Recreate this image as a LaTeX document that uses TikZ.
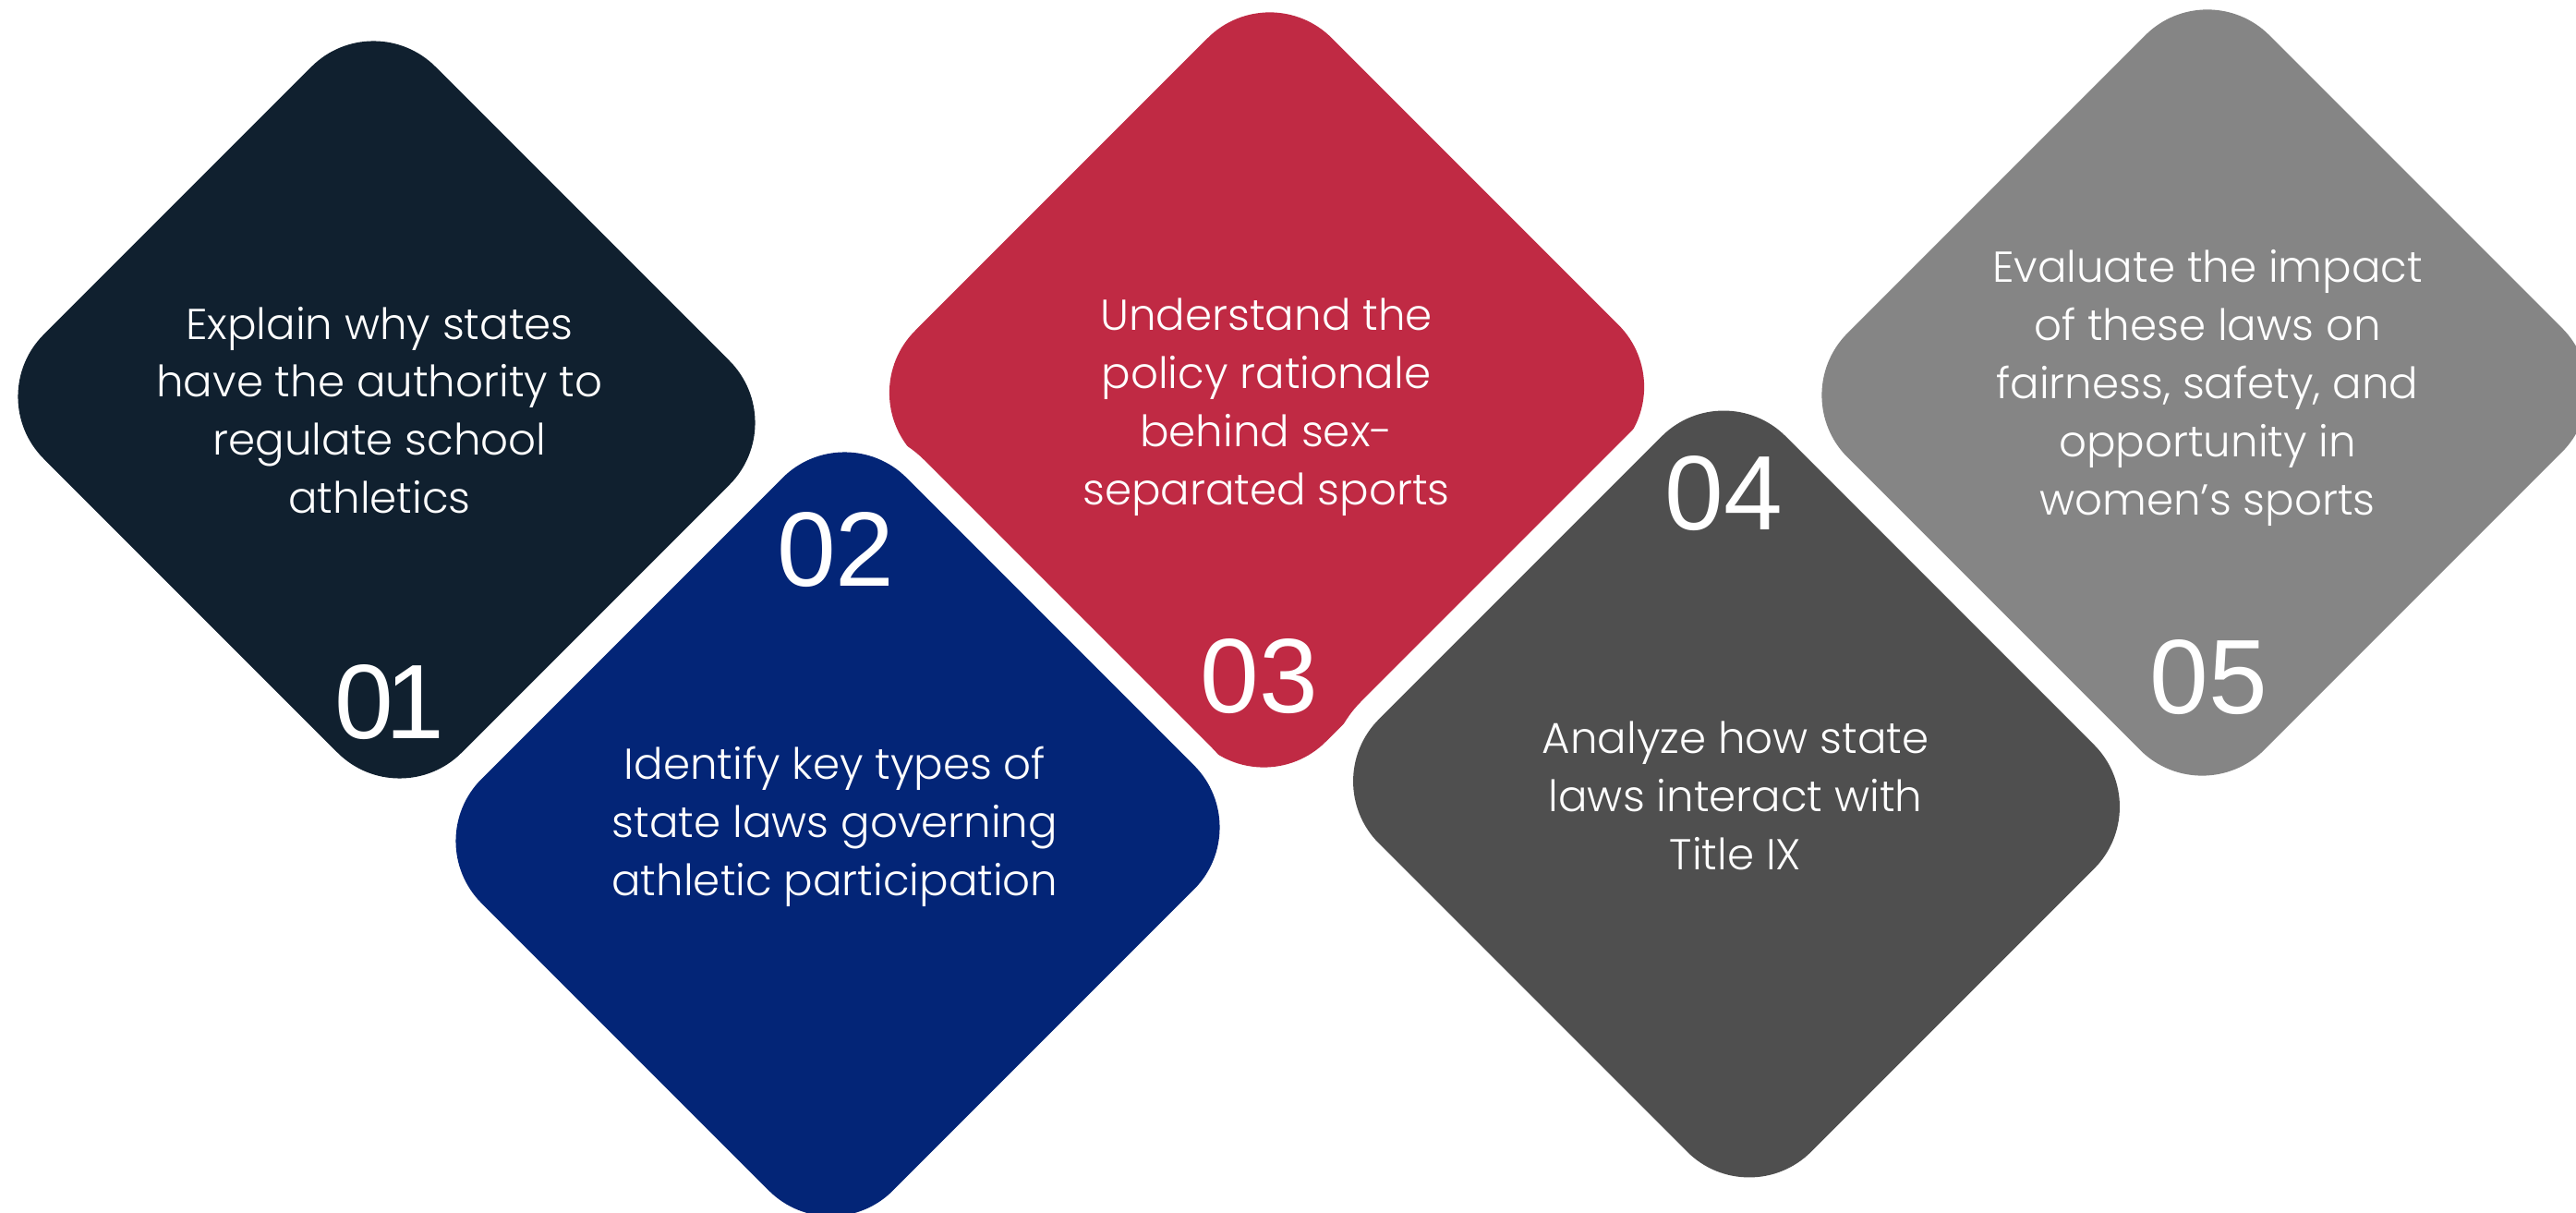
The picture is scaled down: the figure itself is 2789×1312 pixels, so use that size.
\documentclass[tikz,border=0pt]{standalone}
\usepackage{fontspec}
\setmainfont{Poppins Light}
\newfontfamily\digitfont{Liberation Sans}

\definecolor{tileA}{HTML}{10202F}
\definecolor{tileB}{HTML}{032577}
\definecolor{tileC}{HTML}{C02A44}
\definecolor{tileD}{HTML}{4F4F4F}
\definecolor{tileE}{HTML}{858585}

\begin{document}
\begin{tikzpicture}[x=0.1mm, y=0.1mm,
  tile/.style={rectangle, rotate=45, inner sep=0pt, rounded corners=9.5mm,
    preaction={draw=white, line width=5.4mm}},
  blurb/.style={text=white, align=center, inner sep=0pt,
    font=\fontsize{13.3pt}{17.9pt}\selectfont},
  badge/.style={text=white, inner sep=0pt,
    font=\digitfont\fontsize{32.6pt}{34pt}\selectfont}]
\useasboundingbox (0,0) rectangle (2789,1312);
\clip (0,0) rectangle (2789,1312);
\node[tile, fill=tileA, minimum width=60mm, minimum height=64mm] (d1) at (418.5,868.5) {};
\node[tile, fill=tileC, minimum width=63.8mm, minimum height=62.9mm] (d3) at (1371.5,890) {};
\node[tile, fill=tileE, minimum width=64.6mm, minimum height=63.8mm] (d5) at (2387,887) {};
\node[tile, fill=tileB, minimum width=65.1mm, minimum height=63mm] (d2) at (907,409) {};
\node[tile, fill=tileD, minimum width=62.3mm, minimum height=66.2mm] (d4) at (1880,452.5) {};
\node[blurb] (t1) at (411,868) {Explain why states\\have the authority to\\regulate school\\athletics};
\node[blurb] (t2) at (904,417) {Identify key types of\\state laws governing\\athletic participation};
\node[blurb] (t3) at (1371,871) {Understand the\\policy rationale\\behind sex-\\separated sports};
\node[blurb] (t4) at (1879,451) {Analyze how state\\laws interact with\\Title IX};
\node[blurb] (t5) at (2390,892) {Evaluate the impact\\of these laws on\\fairness, safety, and\\opportunity in\\women’s sports};
\node[badge] (n1) at (422,552) {0\kern-0.08em1};
\node[badge] (n2) at (905,717) {02};
\node[badge] (n3) at (1363,580) {03};
\node[badge] (n4) at (1866,778) {04};
\node[badge] (n5) at (2391,579) {05};
\end{tikzpicture}
\end{document}
